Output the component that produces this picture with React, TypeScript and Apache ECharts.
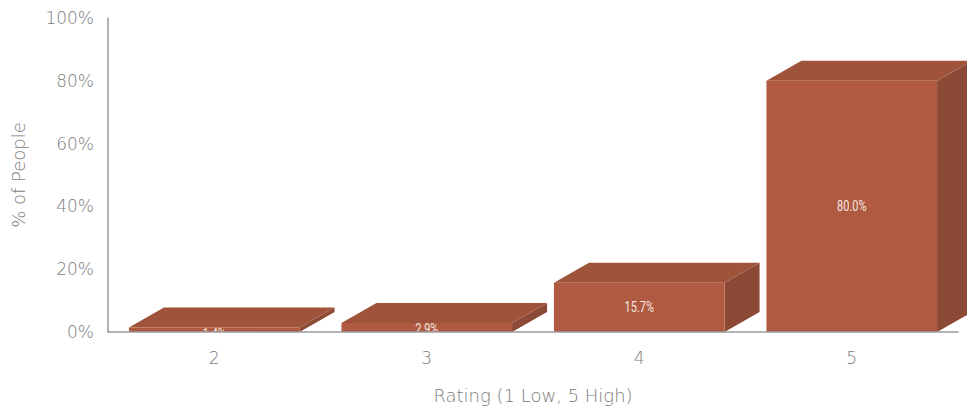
import React, { useEffect, useRef } from "react";
import * as echarts from "echarts";

// Share of respondents for each rating
const ratings = ["2", "3", "4", "5"];
const shares = [1.4, 2.9, 15.7, 80.0];
const shareLabels = ["1.4%", "2.9%", "15.7%", "80.0%"];
const yTicks = { min: 0, max: 100, interval: 20 };

const FRONT = "#b05a41";
const TOP = "#a0533b";
const SIDE = "#8c4a36";
const DEPTH_X = 35;
const DEPTH_Y = 20;
const TEXT_GREY = "#7c7c7c";
const AXIS_GREY = "#9a9a9a";
const AXIS_FONT = "'DejaVu Sans'";

// Draws one extruded column: front face, top face, right face and a value label
function renderBox(params: any, api: any) {
  const idx = api.value(0);
  const [cx, yTop] = api.coord([idx, api.value(1)]);
  const [, yBase] = api.coord([idx, 0]);
  const band = api.size([1, 0])[0];
  const w = band * 0.803;
  const x0 = cx - w / 2;
  const x1 = cx + w / 2;
  const dx = DEPTH_X;
  const dy = DEPTH_Y;

  return {
    type: "group",
    children: [
      {
        type: "polygon",
        shape: { points: [[x1, yTop], [x1 + dx, yTop - dy], [x1 + dx, yBase - dy], [x1, yBase]] },
        style: { fill: SIDE },
      },
      {
        type: "polygon",
        shape: { points: [[x0, yTop], [x0 + dx, yTop - dy], [x1 + dx, yTop - dy], [x1, yTop]] },
        style: { fill: TOP },
      },
      {
        type: "rect",
        shape: { x: x0, y: yTop, width: w, height: yBase - yTop },
        style: { fill: FRONT },
      },
      {
        // On very short columns the label hangs from the top edge and is cut off at the baseline
        type: "group",
        clipPath: { type: "rect", shape: { x: x0, y: yBase - 400, width: w, height: 400 } },
        children: [
          {
            type: "text",
            x: cx,
            y: Math.max((yTop + yBase) / 2, yTop + 6.5),
            scaleX: 0.78,
            style: {
              text: shareLabels[params.dataIndex],
              fill: "#f6e6e0",
              font: "400 14px Roboto",
              align: "center",
              verticalAlign: "middle",
            },
          },
        ],
      },
    ],
  };
}

export default function App() {
  const ref = useRef<HTMLDivElement>(null);

  useEffect(() => {
    const chart = echarts.init(ref.current!, undefined, { renderer: "svg" });
    chart.setOption({
      animation: false,
      backgroundColor: "#ffffff",
      grid: { left: 108, top: 18, width: 850, height: 314 },
      xAxis: {
        type: "category",
        data: ratings,
        z: 5,
        name: "Rating (1 Low, 5 High)",
        nameLocation: "middle",
        nameGap: 54,
        nameTextStyle: { color: TEXT_GREY, fontFamily: AXIS_FONT, fontSize: 18, fontWeight: 200 },
        axisLine: { lineStyle: { color: AXIS_GREY, width: 1.5 } },
        axisTick: { show: false },
        axisLabel: { color: TEXT_GREY, fontFamily: AXIS_FONT, fontSize: 17, fontWeight: 200, margin: 17 },
      },
      yAxis: {
        type: "value",
        min: yTicks.min,
        max: yTicks.max,
        interval: yTicks.interval,
        z: 5,
        name: "% of People",
        nameLocation: "middle",
        nameGap: 81,
        nameTextStyle: { color: TEXT_GREY, fontFamily: AXIS_FONT, fontSize: 18, fontWeight: 200 },
        splitLine: { show: false },
        axisLine: { show: true, lineStyle: { color: AXIS_GREY, width: 1.5 } },
        axisTick: { show: false },
        axisLabel: {
          color: TEXT_GREY,
          fontFamily: AXIS_FONT,
          fontSize: 17,
          fontWeight: 200,
          margin: 14,
          formatter: "{value}%",
        },
      },
      series: [
        {
          type: "custom",
          renderItem: renderBox,
          encode: { x: 0, y: 1 },
          data: shares.map((v, i) => [i, v]),
        },
      ],
    });
    return () => chart.dispose();
  }, []);

  return <div ref={ref} style={{ position: "absolute", left: 0, top: 0, width: 967, height: 409 }} />;
}
